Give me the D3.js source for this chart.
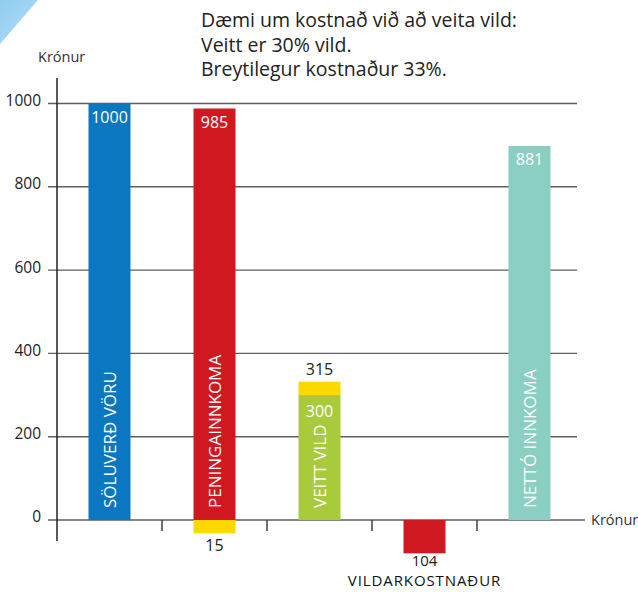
<!DOCTYPE html>
<html>
<head>
<meta charset="utf-8">
<script src="https://cdn.jsdelivr.net/npm/d3@7"></script>
<style>
  html, body { margin: 0; padding: 0; background: #fff; }
  svg { display: block; font-family: "Open Sans", "Noto Sans", sans-serif; }
</style>
</head>
<body>
<div id="chart"></div>
<script>
// Vildarkostnaður - cost of giving a discount

const titleLines = [
    'Dæmi um kostnað við að veita vild:',
    'Veitt er 30% vild.',
    'Breytilegur kostnaður 33%.'
];

const categories = ['SÖLUVERÐ VÖRU', 'PENINGAINNKOMA', 'VEITT VILD', 'VILDARKOSTNAÐUR', 'NETTÓ INNKOMA'];
// bar heights as drawn in the picture (krónur)
const barValues = [1000, 988, 300, -80, 898];
const barLabels = ['1000', '985', '300', '104', '881'];
const barColors = ['#0a77c1', '#cf1820', '#a8cb3b', '#cf1820', '#8acfc1'];

// yellow extra segments
const extraCats = ['PENINGAINNKOMA', 'VEITT VILD'];
const extraFrom = [0, 300];
const extraTo = [-32, 332];
const extraLabels = ['15', '315'];

const yTicks = [0, 200, 400, 600, 800, 1000];

const W = 638, H = 592;

const svg = d3.select('#chart').append('svg')
    .attr('width', W)
    .attr('height', H);

// corner decoration
const grad = svg.append('defs').append('linearGradient')
    .attr('id', 'corner')
    .attr('x1', 0).attr('y1', 0).attr('x2', 1).attr('y2', 1);
grad.append('stop').attr('offset', '0%').attr('stop-color', '#8fcdf0');
grad.append('stop').attr('offset', '100%').attr('stop-color', '#b5def5');
svg.append('path')
    .attr('d', 'M0,0 L38,0 L0,44 Z')
    .attr('fill', 'url(#corner)');

// Scales
const x = d3.scaleBand()
    .domain(categories)
    .range([57, 582])
    .padding(0);

const y = d3.scaleLinear()
    .domain([0, 1000])
    .range([520, 103.5]);

const barW = x.bandwidth() * 0.4;
const barX = c => x(c) + (x.bandwidth() - barW) / 2;
const midX = c => x(c) + x.bandwidth() / 2;

// Title
svg.append('g')
    .selectAll('text')
    .data(titleLines)
    .enter()
    .append('text')
    .attr('x', 201)
    .attr('y', (d, i) => 27 + i * 24.5)
    .attr('font-size', '19.5px')
    .attr('fill', '#222')
    .text(d => d);

// Grid lines
svg.append('g')
    .selectAll('line')
    .data(yTicks)
    .enter()
    .append('line')
    .attr('x1', 48)
    .attr('x2', d => d === 0 ? 585 : 577)
    .attr('y1', d => y(d))
    .attr('y2', d => y(d))
    .attr('stroke', '#5e5e5e')
    .attr('stroke-width', 1.4);

// Y tick labels
svg.append('g')
    .selectAll('text')
    .data(yTicks)
    .enter()
    .append('text')
    .attr('x', 41)
    .attr('y', d => y(d) - 3)
    .attr('dy', '0.35em')
    .attr('text-anchor', 'end')
    .attr('font-size', '15.5px')
    .attr('fill', '#222')
    .text(d => d);

// Y axis line
svg.append('line')
    .attr('x1', 57).attr('x2', 57)
    .attr('y1', 78).attr('y2', 541)
    .attr('stroke', '#222')
    .attr('stroke-width', 1.5);

// X ticks at band boundaries
svg.append('g')
    .selectAll('line')
    .data(categories.slice(1))
    .enter()
    .append('line')
    .attr('x1', d => x(d))
    .attr('x2', d => x(d))
    .attr('y1', y(0))
    .attr('y2', y(0) + 11)
    .attr('stroke', '#333')
    .attr('stroke-width', 1.4);

// Axis titles
svg.append('text')
    .attr('x', 38)
    .attr('y', 62)
    .attr('font-size', '14.5px')
    .attr('fill', '#333')
    .text('Krónur');

svg.append('text')
    .attr('x', 591)
    .attr('y', y(0))
    .attr('dy', '0.35em')
    .attr('font-size', '14.5px')
    .attr('fill', '#333')
    .text('Krónur');

// Bars
svg.append('g')
    .selectAll('rect')
    .data(categories)
    .enter()
    .append('rect')
    .attr('x', d => barX(d))
    .attr('width', barW)
    .attr('y', (d, i) => y(Math.max(0, barValues[i])))
    .attr('height', (d, i) => Math.abs(y(barValues[i]) - y(0)))
    .attr('fill', (d, i) => barColors[i]);

// Yellow segments
svg.append('g')
    .selectAll('rect')
    .data(extraCats)
    .enter()
    .append('rect')
    .attr('x', d => barX(d))
    .attr('width', barW)
    .attr('y', (d, i) => y(Math.max(extraFrom[i], extraTo[i])))
    .attr('height', (d, i) => Math.abs(y(extraTo[i]) - y(extraFrom[i])))
    .attr('fill', '#ffd800');

svg.append('g')
    .selectAll('text')
    .data(extraCats)
    .enter()
    .append('text')
    .attr('x', d => midX(d))
    .attr('y', (d, i) => extraTo[i] < 0 ? y(extraTo[i]) + 12 : y(extraTo[i]) - 12)
    .attr('dy', '0.35em')
    .attr('text-anchor', 'middle')
    .attr('font-size', '16px')
    .attr('fill', '#222')
    .text((d, i) => extraLabels[i]);

// Value labels
categories.forEach((c, i) => {
    const v = barValues[i];
    const inside = v > 0;
    svg.append('text')
        .attr('x', midX(c))
        .attr('y', inside ? y(v) + (c === 'VEITT VILD' ? 16 : 13.5) : y(v) + 7.5)
        .attr('dy', '0.35em')
        .attr('text-anchor', 'middle')
        .attr('font-size', inside ? '16px' : '15px')
        .attr('fill', inside ? '#fff' : '#222')
        .text(barLabels[i]);
});

// Category labels
categories.forEach((c, i) => {
    if (barValues[i] > 0) {
        svg.append('text')
            .attr('transform', `translate(${midX(c)},${y(0) - 12}) rotate(-90)`)
            .attr('dy', '0.36em')
            .attr('font-size', '17px')
            .attr('fill', '#fff')
            .text(c);
    } else {
        svg.append('text')
            .attr('x', midX(c))
            .attr('y', y(barValues[i]) + 27.5)
            .attr('dy', '0.35em')
            .attr('text-anchor', 'middle')
            .attr('font-size', '15px')
            .attr('letter-spacing', '0.9px')
            .attr('fill', '#111')
            .text(c);
    }
});
</script>
</body>
</html>
